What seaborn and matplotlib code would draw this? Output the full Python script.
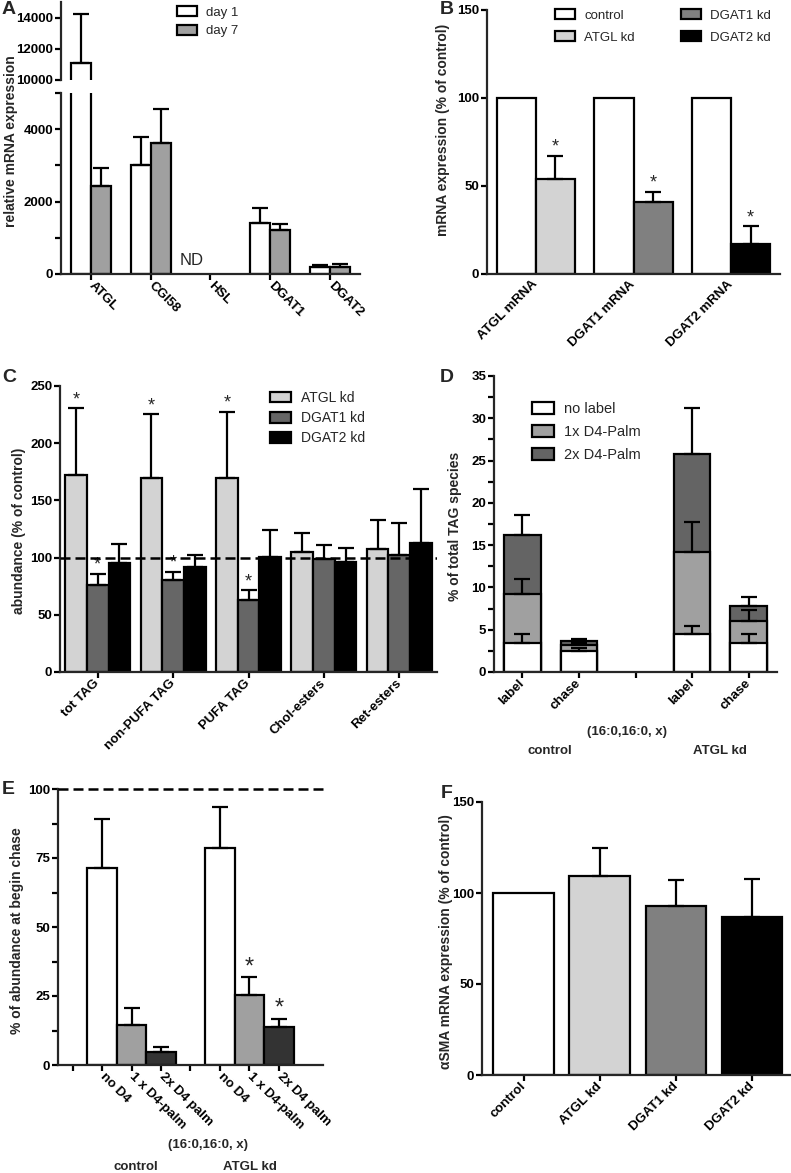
import numpy as np
import pandas as pd
import matplotlib
matplotlib.use("Agg")
import matplotlib.pyplot as plt
import seaborn as sns
from matplotlib.patches import Patch
from matplotlib.ticker import MultipleLocator

# ---- data ----
# A: relative mRNA expression, day 1 vs day 7 (HSL not detected)
a_genes = ["ATGL", "CGI58", "HSL", "DGAT1", "DGAT2"]
a_day1 = [11080, 3020, np.nan, 1415, 185]
a_day1_err = [3180, 760, np.nan, 420, 75]
a_day7 = [2435, 3620, np.nan, 1205, 190]
a_day7_err = [480, 945, np.nan, 185, 90]

# B: knockdown efficiency
b_targets = ["ATGL mRNA", "DGAT1 mRNA", "DGAT2 mRNA"]
b_control = [100, 100, 100]
b_kd_names = ["ATGL kd", "DGAT1 kd", "DGAT2 kd"]
b_kd = [54.2, 40.7, 17.2]
b_kd_err = [13.0, 6.0, 10.0]

# C: lipid abundance (% of control)
c_lipids = ["tot TAG", "non-PUFA TAG", "PUFA TAG", "Chol-esters", "Ret-esters"]
c_kd = ["ATGL kd", "DGAT1 kd", "DGAT2 kd"]
c_atgl = [171.8, 170.0, 170.0, 104.7, 107.3]
c_atgl_err = [58.7, 55.5, 57.6, 17.0, 25.7]
c_dgat1 = [76.0, 80.0, 62.8, 99.0, 102.0]
c_dgat1_err = [10.0, 7.7, 8.7, 12.4, 28.6]
c_dgat2 = [95.3, 92.0, 100.3, 96.2, 112.5]
c_dgat2_err = [16.7, 10.6, 24.0, 12.3, 47.5]
c_atgl_sig = [True, True, True, False, False]
c_dgat1_sig = [True, True, True, False, False]

# D: labelling of (16:0,16:0,x) TAG, stacked segments
d_order = ["ctrl label", "ctrl chase", "gap", "atgl label", "atgl chase"]
d_ticklabels = ["label", "chase", "", "label", "chase"]
d_keys = ["ctrl label", "ctrl chase", "atgl label", "atgl chase"]
d_nolabel = [3.47, 2.48, 4.5, 3.47]
d_nolabel_err = [1.0, 0.3, 0.9, 1.0]
d_1x = [5.8, 0.67, 9.7, 2.55]
d_1x_err = [1.7, 0.25, 3.5, 1.3]
d_2x = [6.93, 0.52, 11.6, 1.76]
d_2x_err = [2.4, 0.2, 5.4, 1.1]

# E: % of abundance at begin of chase
e_order = ["pad", "c no", "c 1x", "c 2x", "gap", "a no", "a 1x", "a 2x"]
e_ticklabels = ["", "no D4", "1 x D4-palm", "2x D4 palm",
                "", "no D4", "1 x D4-palm", "2x D4 palm"]
e_keys = ["c no", "c 1x", "c 2x", "a no", "a 1x", "a 2x"]
e_vals = [71.3, 14.5, 4.6, 78.6, 25.2, 13.6]
e_err = [17.8, 6.0, 2.0, 14.8, 6.7, 3.2]
e_sig = [False, False, False, False, True, True]

# F: alpha-SMA expression
f_groups = ["control", "ATGL kd", "DGAT1 kd", "DGAT2 kd"]
f_vals = [100, 109.2, 93.0, 87.0]
f_err = [0, 15.8, 14.2, 20.7]

# ---- style ----
W, H = 791, 1173
LW = 1.6
sns.set_style("ticks")
plt.rcParams["font.family"] = ["Liberation Sans", "DejaVu Sans"]
plt.rcParams["font.weight"] = "bold"
plt.rcParams["axes.linewidth"] = LW

fig = plt.figure(figsize=(W / 100, H / 100), dpi=100)


def px_axes(x0, y0, x1, y1):
    return fig.add_axes([x0 / W, 1 - y1 / H, (x1 - x0) / W, (y1 - y0) / H])


def figtext(x, y, s, **kw):
    fig.text(x / W, 1 - y / H, s, **kw)


def style_ax(ax):
    sns.despine(ax=ax)
    ax.set_xlabel("")
    ax.set_ylabel("")
    ax.tick_params(which="both", width=LW, length=4, colors="black")
    ax.tick_params(axis="y", labelsize=9.5, pad=1.5)
    ax.tick_params(axis="x", labelsize=9.5, pad=3)
    ax.set_facecolor("none")


def add_errors(ax, container, order, errs):
    for bar in container:
        xc = bar.get_x() + bar.get_width() / 2
        e = errs.get(order[int(round(xc))], 0)
        if not e or np.isnan(e):
            continue
        top = bar.get_y() + bar.get_height()
        ax.errorbar(xc, top, yerr=[[0], [e]], fmt="none", ecolor="black",
                    elinewidth=LW, capsize=5.5, capthick=LW, zorder=4)


def add_stars(ax, container, order, errs, sig, size=13, off=0):
    for bar in container:
        xc = bar.get_x() + bar.get_width() / 2
        key = order[int(round(xc))]
        if not sig.get(key, False):
            continue
        top = bar.get_y() + bar.get_height() + errs.get(key, 0)
        ax.annotate("*", xy=(xc, top), xytext=(0, off), textcoords="offset points",
                    ha="center", va="bottom", fontsize=size, fontweight="normal")


def rot_labels(ax, labels, down=False):
    if down:
        ax.set_xticklabels(labels, rotation=-45, ha="left", va="center",
                           rotation_mode="anchor")
    else:
        ax.set_xticklabels(labels, rotation=45, ha="right", va="center",
                           rotation_mode="anchor")


def legend(handles, x, y, size, spacing, **kw):
    fig.legend(handles=handles, loc="upper left", bbox_to_anchor=(x / W, 1 - y / H),
               frameon=False, prop={"weight": "normal", "size": size},
               handlelength=1.5, handleheight=0.8, handletextpad=0.7,
               labelspacing=spacing, borderpad=0, borderaxespad=0, **kw)


def patch(c, label):
    return Patch(facecolor=c, edgecolor="black", linewidth=LW, label=label)


bar_kw = dict(edgecolor="black", linewidth=LW, saturation=1, errorbar=None)

# ---- A (broken axis) ----
a_df = pd.DataFrame({"gene": a_genes * 2,
                     "day": ["day 1"] * 5 + ["day 7"] * 5,
                     "value": a_day1 + a_day7}).dropna()
a_errs = [dict(zip(a_genes, a_day1_err)), dict(zip(a_genes, a_day7_err))]
axA_top = px_axes(61, 2, 360, 80)
axA = px_axes(61, 93, 360, 274)
for ax in (axA_top, axA):
    sns.barplot(data=a_df, x="gene", y="value", hue="day", order=a_genes,
                hue_order=["day 1", "day 7"], palette=["white", "#A0A0A0"],
                width=0.667, legend=False, ax=ax, **bar_kw)
    for cont, errs in zip(list(ax.containers), a_errs):
        add_errors(ax, cont, a_genes, errs)
    style_ax(ax)
    ax.set_xlim(-0.5, 4.5)
axA.set_ylim(0, 5000)
axA.set_yticks([0, 2000, 4000])
axA.yaxis.set_minor_locator(MultipleLocator(1000))
rot_labels(axA, a_genes, down=True)
axA.text(a_genes.index("HSL") - 0.32, 360, "ND", fontsize=12, fontweight="normal",
         ha="center", va="center")
axA_top.set_ylim(10000, 15000)
axA_top.set_yticks([10000, 12000, 14000])
axA_top.spines["bottom"].set_visible(False)
axA_top.tick_params(axis="x", bottom=False, labelbottom=False)
legend([patch("white", "day 1"), patch("#A0A0A0", "day 7")], 177, 6, 9.5, 0.45)

# ---- B ----
b_df = pd.DataFrame({"target": b_targets * 2,
                     "role": ["control"] * 3 + ["kd"] * 3,
                     "value": b_control + b_kd})
b_colors = {"ATGL kd": "#D3D3D3", "DGAT1 kd": "#808080", "DGAT2 kd": "black"}
axB = px_axes(487, 10, 780, 274)
sns.barplot(data=b_df, x="target", y="value", hue="role", order=b_targets,
            hue_order=["control", "kd"], palette=["white", "#D3D3D3"],
            width=0.8, legend=False, ax=axB, **bar_kw)
kd_cont = axB.containers[1]
for bar, name in zip(kd_cont, b_kd_names):
    bar.set_facecolor(b_colors[name])
b_err = dict(zip(b_targets, b_kd_err))
add_errors(axB, kd_cont, b_targets, b_err)
add_stars(axB, kd_cont, b_targets, b_err, dict.fromkeys(b_targets, True))
style_ax(axB)
axB.set_xlim(-0.5, 2.5)
axB.set_ylim(0, 150)
axB.set_yticks([0, 50, 100, 150])
axB.tick_params(axis="x", length=0, pad=6)
rot_labels(axB, b_targets)
legend([patch("white", "control"), patch("#D3D3D3", "ATGL kd"),
        patch("#808080", "DGAT1 kd"), patch("black", "DGAT2 kd")],
       555, 9, 9.5, 0.74, ncol=2, columnspacing=3.5)

# ---- C ----
c_df = pd.DataFrame({"lipid": c_lipids * 3,
                     "kd": np.repeat(c_kd, len(c_lipids)),
                     "value": c_atgl + c_dgat1 + c_dgat2})
axC = px_axes(60, 386, 437, 672)
sns.barplot(data=c_df, x="lipid", y="value", hue="kd", order=c_lipids,
            hue_order=c_kd, palette=["#D3D3D3", "#666666", "black"],
            width=0.86, legend=False, ax=axC, **bar_kw)
c_errs = [c_atgl_err, c_dgat1_err, c_dgat2_err]
c_sigs = [c_atgl_sig, c_dgat1_sig, [False] * 5]
for cont, errs, sig in zip(list(axC.containers), c_errs, c_sigs):
    ed = dict(zip(c_lipids, errs))
    add_errors(axC, cont, c_lipids, ed)
    add_stars(axC, cont, c_lipids, ed, dict(zip(c_lipids, sig)))
axC.axhline(100, color="black", lw=1.8, ls=(0, (4, 2)), zorder=5)
style_ax(axC)
axC.set_xlim(-0.5, 4.5)
axC.set_ylim(0, 250)
axC.set_yticks(range(0, 251, 50))
rot_labels(axC, c_lipids)
legend([patch("#D3D3D3", "ATGL kd"), patch("#666666", "DGAT1 kd"),
        patch("black", "DGAT2 kd")], 270, 391, 10, 0.44)

# ---- D (stacked) ----
d_cum1 = np.add(d_nolabel, d_1x)
d_cum2 = d_cum1 + np.array(d_2x)
axD = px_axes(494, 376, 777, 672)
for vals, c in [(d_cum2, "#646464"), (d_cum1, "#A0A0A0"), (d_nolabel, "white")]:
    sns.barplot(x=d_keys, y=list(vals), order=d_order, color=c, width=0.65,
                ax=axD, **bar_kw)
for cont, errs in zip(list(axD.containers), [d_2x_err, d_1x_err, d_nolabel_err]):
    add_errors(axD, cont, d_order, dict(zip(d_keys, errs)))
style_ax(axD)
axD.set_xlim(-0.5, 4.5)
axD.set_ylim(0, 35)
axD.yaxis.set_major_locator(MultipleLocator(5))
axD.yaxis.set_minor_locator(MultipleLocator(2.5))
axD.set_xticks(range(len(d_order)))
rot_labels(axD, d_ticklabels)
legend([patch("white", "no label"), patch("#A0A0A0", "1x D4-Palm"),
        patch("#646464", "2x D4-Palm")], 532, 402, 10.5, 0.62)
figtext(627, 732, "(16:0,16:0, x)", fontsize=9.5, ha="center", va="center")
figtext(550, 751, "control", fontsize=9.5, ha="center", va="center")
figtext(720, 751, "ATGL kd", fontsize=9.5, ha="center", va="center")

# ---- E ----
e_colors = dict(zip(e_keys, ["white", "#A0A0A0", "#333333"] * 2))
axE = px_axes(58, 789, 323, 1065)
sns.barplot(x=e_keys, y=e_vals, hue=e_keys, order=e_order, palette=e_colors,
            width=1.0, legend=False, ax=axE, **bar_kw)
e_errd = dict(zip(e_keys, e_err))
e_sigd = dict(zip(e_keys, e_sig))
for cont in list(axE.containers):
    add_errors(axE, cont, e_order, e_errd)
    add_stars(axE, cont, e_order, e_errd, e_sigd, size=17, off=-1)
axE.axhline(100, color="black", lw=1.8, ls=(0, (4, 2)), zorder=5, clip_on=False)
style_ax(axE)
axE.set_xlim(-0.5, 8.5)
axE.set_ylim(0, 100)
axE.yaxis.set_major_locator(MultipleLocator(25))
axE.yaxis.set_minor_locator(MultipleLocator(12.5))
axE.set_xticks(range(len(e_order)))
rot_labels(axE, e_ticklabels, down=True)
figtext(208, 1145, "(16:0,16:0, x)", fontsize=9.5, ha="center", va="center")
figtext(136, 1167, "control", fontsize=9.5, ha="center", va="center")
figtext(250, 1167, "ATGL kd", fontsize=9.5, ha="center", va="center")

# ---- F ----
axF = px_axes(482, 802, 790, 1075)
sns.barplot(x=f_groups, y=f_vals, hue=f_groups, order=f_groups,
            palette=["white", "#D3D3D3", "#808080", "black"],
            width=0.8, legend=False, ax=axF, **bar_kw)
f_errd = dict(zip(f_groups, f_err))
for cont in list(axF.containers):
    add_errors(axF, cont, f_groups, f_errd)
style_ax(axF)
axF.set_xlim(-0.55, 3.5)
axF.set_ylim(0, 150)
axF.set_yticks([0, 50, 100, 150])
rot_labels(axF, f_groups)

# ---- y labels and panel letters ----
ylab = dict(fontsize=10, rotation=90, ha="center", va="center")
figtext(11, 141, "relative mRNA expression", **ylab)
figtext(443, 130, "mRNA expression (% of control)", **ylab)
figtext(19, 531, "abundance (% of control)", **ylab)
figtext(455, 526, "% of total TAG species", **ylab)
figtext(17, 931, "% of abundance at begin chase", **ylab)
figtext(446, 942, "\u03b1SMA mRNA expression (% of control)", **ylab)

for letter, x, y in [("A", 9, 10), ("B", 447, 10), ("C", 9, 377),
                     ("D", 447, 377), ("E", 8, 790), ("F", 447, 793)]:
    figtext(x, y, letter, fontsize=14, ha="center", va="center")

fig.savefig("out.png", dpi=100)
